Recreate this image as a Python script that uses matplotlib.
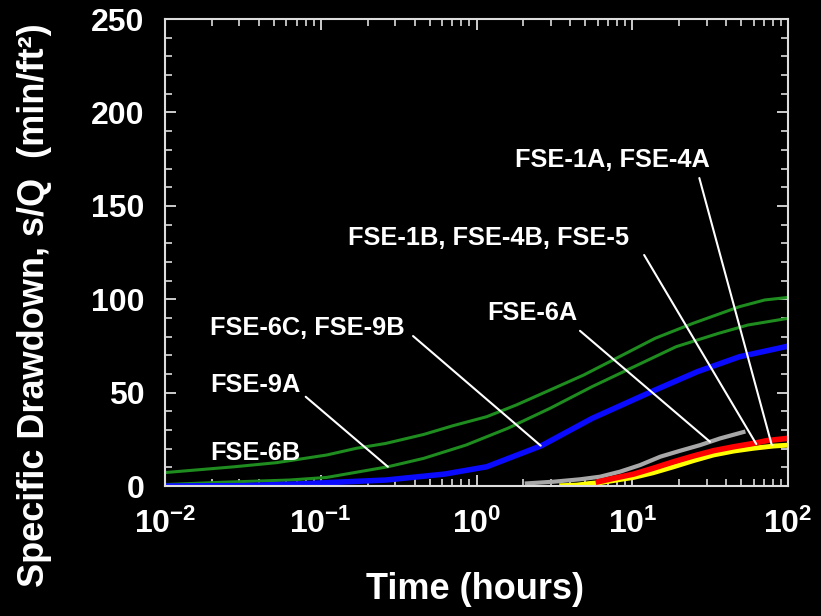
import matplotlib
matplotlib.use("Agg")
import matplotlib.pyplot as plt
from matplotlib.ticker import LogLocator, MultipleLocator, FuncFormatter
import numpy as np

plt.rcParams['font.family'] = ['Liberation Sans', 'DejaVu Sans']
plt.rcParams['font.weight'] = 'bold'
plt.rcParams['mathtext.fontset'] = 'custom'
plt.rcParams['mathtext.rm'] = 'Liberation Sans:bold'
plt.rcParams['mathtext.bf'] = 'Liberation Sans:bold'

# time (hours) and specific drawdown (min/ft^2)
t_6b = [0.01, 0.0278, 0.0519, 0.109, 0.169, 0.261, 0.457, 0.706, 1.16, 1.80,
        2.96, 4.86, 7.52, 14.0, 24.5, 48.6, 70.6, 100]
s_6b = [7.2, 10.3, 12.5, 16.6, 20.2, 22.8, 27.6, 32.3, 37.1, 43.4,
        51.4, 59.4, 67.5, 79.1, 87.1, 96.0, 99.6, 101]

t_9a = [0.01, 0.0231, 0.0625, 0.109, 0.269, 0.457, 0.853, 1.585, 2.96, 5.51,
        10.26, 19.1, 35.6, 55.1, 100]
s_9a = [0.8, 2.0, 3.2, 4.6, 10.3, 14.8, 21.9, 30.9, 41.6, 53.2,
        63.9, 74.6, 81.7, 86.2, 89.8]

t_6c = [0.01, 0.0316, 0.0706, 0.261, 0.624, 1.16, 2.61, 5.51, 14.0, 26.1, 48.6, 100]
s_6c = [0.0, 0.2, 1.1, 3.2, 6.4, 10.3, 21.6, 36.2, 51.4, 61.2, 69.2, 74.9]

t_6a = [2.10, 3.11, 4.62, 6.21, 8.34, 11.2, 15.1, 20.3, 27.2, 36.6, 51.6]
s_6a = [1.4, 2.3, 3.6, 5.0, 7.7, 11.2, 15.7, 18.9, 21.9, 25.5, 28.9]

t_1b = [6.05, 7.55, 10.2, 13.6, 18.4, 24.7, 33.1, 44.6, 59.8, 72.9, 99]
s_1b = [2.3, 4.1, 6.4, 9.5, 13.0, 16.1, 18.9, 21.0, 22.8, 24.3, 25.5]

t_1a = [3.52, 4.40, 5.36, 6.21, 7.94, 10.2, 13.6, 18.4, 24.7, 33.1, 44.6, 59.8, 80.5, 100]
s_1a = [0.2, 0.5, 1.4, 1.8, 3.2, 4.6, 7.1, 10.3, 13.6, 16.6, 18.7, 20.2, 21.4, 21.9]

fig = plt.figure(figsize=(8.21, 6.16), dpi=100, facecolor='black')
ax = fig.add_axes([0.201, 0.211, 0.759, 0.758], facecolor='black')

ax.plot(t_6b, s_6b, color='#1e8c1e', lw=2.2)
ax.plot(t_9a, s_9a, color='#1e8c1e', lw=2.2)
ax.plot(t_6c, s_6c, color='#0a0aff', lw=4)
ax.plot(t_6a, s_6a, color='#a8a8a8', lw=3)
ax.plot(t_1a, s_1a, color='#ffff00', lw=3.5)
ax.plot(t_1b, s_1b, color='#ff0000', lw=4)

ax.set_xscale('log')
ax.set_xlim(0.01, 100)
ax.set_ylim(0, 250)

ax.xaxis.set_major_locator(LogLocator(base=10))
ax.xaxis.set_minor_locator(LogLocator(base=10, subs=range(2, 10)))
ax.xaxis.set_major_formatter(FuncFormatter(lambda v, p: r'$\mathbf{10^{%d}}$' % round(np.log10(v))))
ax.yaxis.set_major_locator(MultipleLocator(50))
ax.yaxis.set_minor_locator(MultipleLocator(10))

for sp in ax.spines.values():
    sp.set_color('#dddddd')
    sp.set_linewidth(1.5)
ax.tick_params(which='both', direction='in', top=True, right=True, colors='#dddddd')
ax.tick_params(which='major', length=8, width=1.3, labelsize=23, labelcolor='white')
ax.tick_params(axis='x', which='major', pad=16)
ax.tick_params(axis='y', which='major', pad=15)
ax.tick_params(which='minor', length=5, width=1.2)
for lab in ax.get_yticklabels():
    lab.set_fontweight('bold')

ax.set_xlabel('Time (hours)', color='white', fontsize=26, fontweight='bold')
ax.xaxis.set_label_coords(0.4976, -0.184)
ax.set_ylabel('Specific Drawdown, s/Q  (min/ft²)', color='white', fontsize=26,
              fontweight='bold', va='center')
ax.yaxis.set_label_coords(-0.21, 0.387)

lab_kw = dict(color='white', fontsize=18.3, fontweight='bold', ha='left', va='center')
arrow_kw = dict(arrowstyle='-', color='white', lw=1.5, shrinkA=0, shrinkB=0)

ax.text(1.766, 174.5, 'FSE-1A, FSE-4A', **lab_kw)
ax.annotate('', xy=(78.5, 21.9), xytext=(26.9, 164.9), arrowprops=arrow_kw)

ax.text(0.1496, 132.8, 'FSE-1B, FSE-4B, FSE-5', **lab_kw)
ax.annotate('', xy=(62.4, 22.5), xytext=(11.9, 123.7), arrowprops=arrow_kw)

ax.text(1.168, 92.6, 'FSE-6A', **lab_kw)
ax.annotate('', xy=(31.5, 23.7), xytext=(4.61, 83.1), arrowprops=arrow_kw)

ax.text(0.0195, 84.6, 'FSE-6C, FSE-9B', **lab_kw)
ax.annotate('', xy=(2.58, 21.6), xytext=(0.391, 80.3), arrowprops=arrow_kw)

ax.text(0.0195, 54.1, 'FSE-9A', **lab_kw)
ax.annotate('', xy=(0.2695, 10.3), xytext=(0.080, 47.8), arrowprops=arrow_kw)

ax.text(0.0195, 17.7, 'FSE-6B', **lab_kw)

fig.savefig('out.png', dpi=100, facecolor='black')
